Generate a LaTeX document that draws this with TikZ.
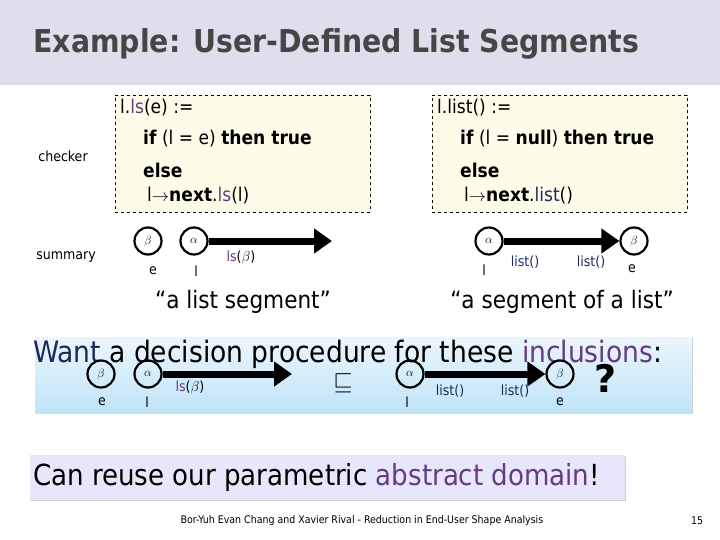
\documentclass[tikz,border=0pt]{standalone}
\usepackage{fontspec}
\setmainfont{DejaVu Sans}
\newfontfamily\condf{DejaVu Sans Condensed}
\usetikzlibrary{arrows.meta,shadows}
\definecolor{titlebg}{RGB}{222,222,236}
\definecolor{titlefg}{RGB}{70,70,70}
\definecolor{boxbg}{RGB}{252,252,232}
\definecolor{purp}{RGB}{100,60,130}
\definecolor{navy}{RGB}{30,40,90}
\definecolor{bluetop}{RGB}{236,246,252}
\definecolor{bluebot}{RGB}{190,228,248}
\definecolor{lav}{RGB}{232,230,250}
\tikzset{
 hv/.style={circle,draw,line width=2.2pt,minimum size=27pt,inner sep=0pt,font=\large},
 lab/.style={font=\condf\fontsize{14}{15}\selectfont,inner sep=1pt},
 edge/.style={line width=7pt,-{Triangle[length=18pt,width=24pt]}},
 code/.style={anchor=west,font=\condf\fontsize{19}{21}\selectfont,inner sep=0pt},
 small/.style={font=\condf\fontsize{14}{15}\selectfont,inner sep=1pt},
 big/.style={font=\condf\fontsize{24}{26}\selectfont}
}
\begin{document}
\begin{tikzpicture}[x=1pt,y=-1pt]
\useasboundingbox (0,0) rectangle (720,540);
\fill[titlebg] (0,0) rectangle (720,85);
\node[anchor=west,font=\condf\bfseries\fontsize{31.5}{33}\selectfont,text=titlefg] (title) at (30,44) {Example: User-Defined List Segments};
% boxes
\node[draw,dashed,fill=boxbg,minimum width=255pt,minimum height=117pt,anchor=north west] (bl) at (115,95) {};
\node[draw,dashed,fill=boxbg,minimum width=255pt,minimum height=117pt,anchor=north west] (br) at (432,95) {};
\node[code] (l1) at (120,108) {l.\textcolor{purp}{ls}(e) :=};
\node[code] (l2) at (143,139) {\textbf{if} (l = e) \textbf{then true}};
\node[code] (l3) at (143,170) {\textbf{else}};
\node[code] (l4) at (147,196) {l$\rightarrow$\textbf{next}.\textcolor{purp}{ls}(l)};
\node[code] (r1) at (437,108) {l.list() :=};
\node[code] (r2) at (460,139) {\textbf{if} (l = \textbf{null}) \textbf{then true}};
\node[code] (r3) at (460,170) {\textbf{else}};
\node[code] (r4) at (464,196) {l$\rightarrow$\textbf{next}.\textcolor{navy}{list}()};
\node[small] (chk) at (63,156) {checker};
\node[small] (sum) at (66,257) {summary};
% summary left
\node[hv] (b1) at (148,241) {$\beta$};
\node[hv] (a1) at (194,241) {$\alpha$};
\coordinate (e1) at (332,241);
\draw[edge] (a1) -- (e1);
\node[lab] (be1) at (153,271) {e};
\node[lab] (al1) at (196,271) {l};
\node[lab] (ls1) at (241,258) {\textcolor{purp}{ls}($\beta$)};
\node[big] (q1) at (243,302) {“a list segment”};
% summary right
\node[hv] (a2) at (489,241) {$\alpha$};
\node[hv] (b2) at (634,241) {$\beta$};
\draw[edge] (a2) -- (b2);
\node[lab] (al2) at (484,270) {l};
\node[lab,text=navy] (lt2) at (525,262) {list()};
\node[lab,text=navy] (lt3) at (591,262) {list()};
\node[lab] (be2) at (632,269) {e};
\node[big] (q2) at (562,302) {“a segment of a list”};
% blue box
\shade[top color=bluetop,bottom color=bluebot,drop shadow={shadow xshift=1pt,shadow yshift=-1pt,opacity=.4}] (35,337) rectangle (692,413);
\node[anchor=west,font=\condf\fontsize{29.5}{31}\selectfont,inner sep=0pt] (want) at (33,354) {\textcolor{navy}{Want} a decision procedure for these \textcolor{purp}{inclusions}:};
\node[hv] (b3) at (101,374) {$\beta$};
\node[hv] (a3) at (148,374) {$\alpha$};
\coordinate (e3) at (292,374);
\draw[edge] (a3) -- (e3);
\node[lab] (be3) at (102,402) {e};
\node[lab] (al3) at (147,402) {l};
\node[lab] (ls3) at (190,388) {\textcolor{purp}{ls}($\beta$)};
\node[font=\fontsize{38}{40}\selectfont] (sq) at (343,383) {$\sqsubseteq$};
\node[hv] (a4) at (410,374) {$\alpha$};
\node[hv] (b4) at (560,374) {$\beta$};
\draw[edge] (a4) -- (b4);
\node[lab] (al4) at (407,402) {l};
\node[lab,text=navy] (lt4) at (450,391) {list()};
\node[lab,text=navy] (lt5) at (515,391) {list()};
\node[lab] (be4) at (560,402) {e};
\node[font=\bfseries\fontsize{38}{40}\selectfont] (qm) at (606,378) {?};
% purple box
\fill[lav,drop shadow={shadow xshift=1pt,shadow yshift=-1pt,opacity=.4}] (30,455) rectangle (625,500);
\node[anchor=west,font=\condf\fontsize{29}{31}\selectfont,inner sep=0pt] (can) at (33,477) {Can reuse our parametric \textcolor{purp}{abstract domain}!};
\node[font=\condf\fontsize{10.5}{12}\selectfont] (foot) at (362,521) {Bor-Yuh Evan Chang and Xavier Rival - Reduction in End-User Shape Analysis};
\node[font=\condf\fontsize{10.5}{12}\selectfont] (pg) at (697,521) {15};
\end{tikzpicture}
\end{document}
